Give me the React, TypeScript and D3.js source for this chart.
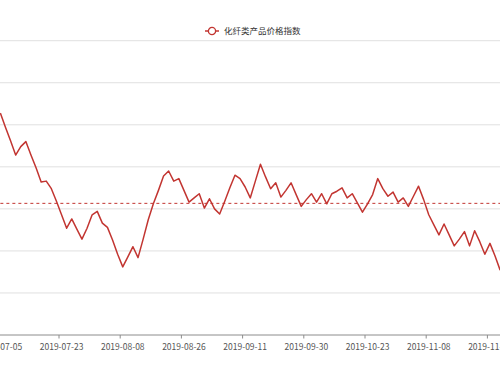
import React, { useEffect, useRef } from 'react';
import * as d3 from 'd3';

const SERIES_NAME = '化纤类产品价格指数';

// trading days shown on the category axis
const dates: string[] = [
  '2019-07-05', '2019-07-08', '2019-07-09', '2019-07-10', '2019-07-11', '2019-07-12', '2019-07-15', '2019-07-16',
  '2019-07-17', '2019-07-18', '2019-07-19', '2019-07-22', '2019-07-23', '2019-07-24', '2019-07-25', '2019-07-26',
  '2019-07-29', '2019-07-30', '2019-07-31', '2019-08-01', '2019-08-02', '2019-08-05', '2019-08-06', '2019-08-07',
  '2019-08-08', '2019-08-09', '2019-08-12', '2019-08-13', '2019-08-14', '2019-08-15', '2019-08-16', '2019-08-19',
  '2019-08-20', '2019-08-21', '2019-08-22', '2019-08-23', '2019-08-26', '2019-08-27', '2019-08-28', '2019-08-29',
  '2019-08-30', '2019-09-02', '2019-09-03', '2019-09-04', '2019-09-05', '2019-09-06', '2019-09-09', '2019-09-10',
  '2019-09-11', '2019-09-12', '2019-09-16', '2019-09-17', '2019-09-18', '2019-09-19', '2019-09-20', '2019-09-23',
  '2019-09-24', '2019-09-25', '2019-09-26', '2019-09-27', '2019-09-30', '2019-10-08', '2019-10-09', '2019-10-10',
  '2019-10-11', '2019-10-14', '2019-10-15', '2019-10-16', '2019-10-17', '2019-10-18', '2019-10-21', '2019-10-22',
  '2019-10-23', '2019-10-24', '2019-10-25', '2019-10-28', '2019-10-29', '2019-10-30', '2019-10-31', '2019-11-01',
  '2019-11-04', '2019-11-05', '2019-11-06', '2019-11-07', '2019-11-08', '2019-11-11', '2019-11-12', '2019-11-13',
  '2019-11-14', '2019-11-15', '2019-11-18', '2019-11-19', '2019-11-20', '2019-11-21', '2019-11-22', '2019-11-25',
  '2019-11-26', '2019-11-27', '2019-11-28',
];

const values: number[] = [
  106.4, 104.7, 103.1, 101.4, 102.4, 103.0, 101.4, 99.9, 98.2, 98.3,
  97.4, 95.9, 94.3, 92.7, 93.8, 92.6, 91.4, 92.7, 94.3, 94.7,
  93.3, 92.8, 91.3, 89.6, 88.1, 89.3, 90.5, 89.2, 91.4, 93.7,
  95.6, 97.2, 98.9, 99.5, 98.3, 98.6, 97.2, 95.8, 96.3, 96.8,
  95.1, 96.2, 95.0, 94.4, 95.9, 97.5, 99.0, 98.6, 97.6, 96.3,
  98.3, 100.3, 98.8, 97.4, 98.1, 96.4, 97.2, 98.1, 96.7, 95.3,
  96.1, 96.8, 95.8, 96.8, 95.6, 96.8, 97.1, 97.5, 96.3, 96.8,
  95.7, 94.6, 95.6, 96.7, 98.6, 97.4, 96.5, 97.0, 95.8, 96.3,
  95.3, 96.5, 97.7, 96.1, 94.3, 93.1, 91.9, 93.2, 91.9, 90.6,
  91.4, 92.3, 90.6, 92.4, 91.1, 89.6, 90.9, 89.4, 87.7,
];

const yTicks: number[] = [80, 85, 90, 95, 100, 105, 110, 115];

const LABEL_INTERVAL = 12;
const WIDTH = 500;
const HEIGHT = 375;
const LINE_COLOR = '#c23531';
const FONT = '"Noto Sans CJK SC", "Noto Sans", sans-serif';

// plot area is wider than the window on purpose: the original is a cropped view
const plot = { left: -2.2, right: 502.7, top: 40.7, bottom: 335 };

export default function App() {
  const svgRef = useRef<SVGSVGElement>(null);

  useEffect(() => {
    if (!svgRef.current) return;
    const svg = d3.select(svgRef.current);
    svg.selectAll('*').remove();

    const x = d3.scaleBand<string>()
      .domain(dates)
      .range([plot.left, plot.right])
      .padding(0);

    const y = d3.scaleLinear()
      .domain([yTicks[0], yTicks[yTicks.length - 1]])
      .range([plot.bottom, plot.top]);

    const cx = (d: string) => (x(d) as number) + x.bandwidth() / 2;

    // horizontal grid
    svg.append('g')
      .selectAll('line')
      .data(yTicks.slice(1))
      .enter()
      .append('line')
      .attr('x1', plot.left)
      .attr('x2', plot.right)
      .attr('y1', d => y(d))
      .attr('y2', d => y(d))
      .attr('stroke', '#e0e0e0')
      .attr('stroke-width', 1);

    // x axis
    const labelled = dates.filter((_, i) => i % LABEL_INTERVAL === 0);
    const axis = d3.axisBottom(x)
      .tickValues(labelled)
      .tickSize(0)
      .tickPadding(9);

    const axisG = svg.append('g')
      .attr('transform', `translate(0,${plot.bottom})`)
      .call(axis);
    axisG.select('.domain').remove();
    axisG.selectAll('text')
      .attr('fill', '#555')
      .style('font-family', FONT)
      .style('font-size', '8.5px');

    axisG.append('line')
      .attr('x1', plot.left)
      .attr('x2', plot.right)
      .attr('stroke', '#8c8c8c')
      .attr('stroke-width', 1);

    axisG.selectAll('line.band-tick')
      .data(labelled)
      .enter()
      .append('line')
      .attr('class', 'band-tick')
      .attr('x1', d => x(d) as number)
      .attr('x2', d => x(d) as number)
      .attr('y1', 0)
      .attr('y2', 3.5)
      .attr('stroke', '#8c8c8c');

    // average mark line
    const avg = d3.mean(values) as number;
    svg.append('line')
      .attr('x1', cx(dates[0]))
      .attr('x2', plot.right)
      .attr('y1', y(avg))
      .attr('y2', y(avg))
      .attr('stroke', LINE_COLOR)
      .attr('stroke-width', 1)
      .attr('stroke-dasharray', '3,3');

    // series
    const line = d3.line<number>()
      .x((_, i) => cx(dates[i]))
      .y(d => y(d));

    svg.append('path')
      .datum(values)
      .attr('d', line)
      .attr('fill', 'none')
      .attr('stroke', LINE_COLOR)
      .attr('stroke-width', 1.5)
      .attr('stroke-linejoin', 'round');

    // legend
    const legend = svg.append('g').attr('transform', 'translate(205,31)');
    legend.append('line')
      .attr('x1', 0)
      .attr('x2', 14)
      .attr('stroke', LINE_COLOR)
      .attr('stroke-width', 1.5);
    legend.append('circle')
      .attr('cx', 7)
      .attr('r', 3.6)
      .attr('fill', '#fff')
      .attr('stroke', LINE_COLOR)
      .attr('stroke-width', 1.3);
    legend.append('text')
      .attr('x', 19)
      .attr('dy', '0.35em')
      .attr('fill', '#333')
      .style('font-family', FONT)
      .style('font-size', '8.5px')
      .text(SERIES_NAME);
  }, []);

  return (
    <div style={{ position: 'absolute', left: 0, top: 0, width: WIDTH, height: HEIGHT, background: '#fff' }}>
      <svg ref={svgRef} width={WIDTH} height={HEIGHT} style={{ display: 'block', overflow: 'hidden' }} />
    </div>
  );
}
